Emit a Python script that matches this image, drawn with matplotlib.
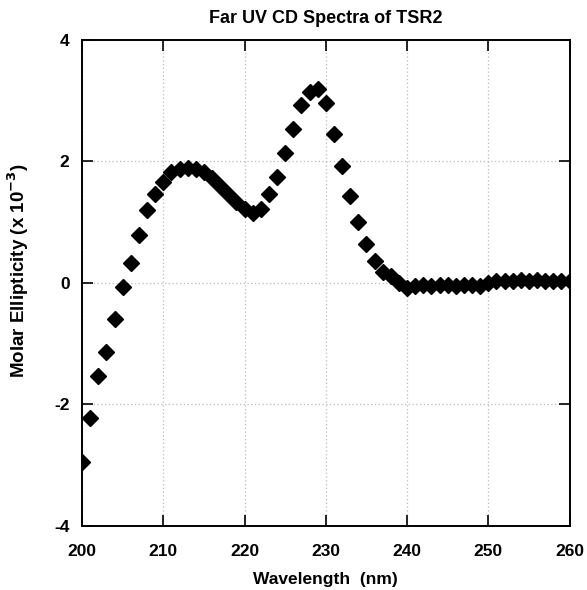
import numpy as np
import matplotlib
matplotlib.use("Agg")
import matplotlib.pyplot as plt

# wavelength (nm) and molar ellipticity (x 10^-3)
wavelength = list(range(200, 261))
ellipticity = [
    -2.94, -2.23, -1.53, -1.14, -0.60, -0.06, 0.33, 0.79, 1.20, 1.46,
    1.67, 1.82, 1.88, 1.89, 1.87, 1.82, 1.73, 1.60, 1.47, 1.33,
    1.21, 1.16, 1.21, 1.46, 1.75, 2.14, 2.54, 2.93, 3.14, 3.19,
    2.96, 2.45, 1.93, 1.44, 1.00, 0.65, 0.37, 0.18, 0.11, 0.00,
    -0.09, -0.05, -0.04, -0.05, -0.04, -0.04, -0.05, -0.04, -0.04, -0.05,
    0.00, 0.03, 0.04, 0.04, 0.05, 0.04, 0.05, 0.04, 0.04, 0.04,
    0.04,
]
x_ticks = [200, 210, 220, 230, 240, 250, 260]
y_ticks = [-4, -2, 0, 2, 4]

plt.rcParams['font.family'] = ['Liberation Sans', 'DejaVu Sans']
plt.rcParams['font.weight'] = 'bold'
plt.rcParams['axes.unicode_minus'] = False

fig = plt.figure(figsize=(5.87, 5.9), dpi=100)
ax = fig.add_axes([0.1397, 0.1085, 0.8305, 0.8237])

ax.plot(wavelength, ellipticity, linestyle='none', marker='D',
        markersize=7.8, color='black', zorder=3)

ax.set_xlim(200, 260)
ax.set_ylim(-4, 4)
ax.set_xticks(x_ticks)
ax.set_yticks(y_ticks)
ax.tick_params(direction='in', length=8, width=1.2, top=True, right=True,
               labelsize=12.5)
ax.tick_params(axis='x', pad=13)
ax.tick_params(axis='y', pad=9)
for lab in ax.get_xticklabels() + ax.get_yticklabels():
    lab.set_fontweight('bold')

ax.grid(True, color='#bbbbbb', linestyle=(0, (1, 2)), linewidth=0.9)
for s in ax.spines.values():
    s.set_linewidth(1.4)

ax.set_title('Far UV CD Spectra of TSR2', fontsize=13, fontweight='bold', pad=12)
ax.set_xlabel('Wavelength  (nm)', fontsize=12.5, fontweight='bold', labelpad=9)
ax.set_ylabel('Molar Ellipticity (x 10$^{\\mathbf{-3}}$)', fontsize=13.5,
              fontweight='bold')
ax.yaxis.set_label_coords(-0.105, 0.525)

fig.savefig('out.png', dpi=100)
